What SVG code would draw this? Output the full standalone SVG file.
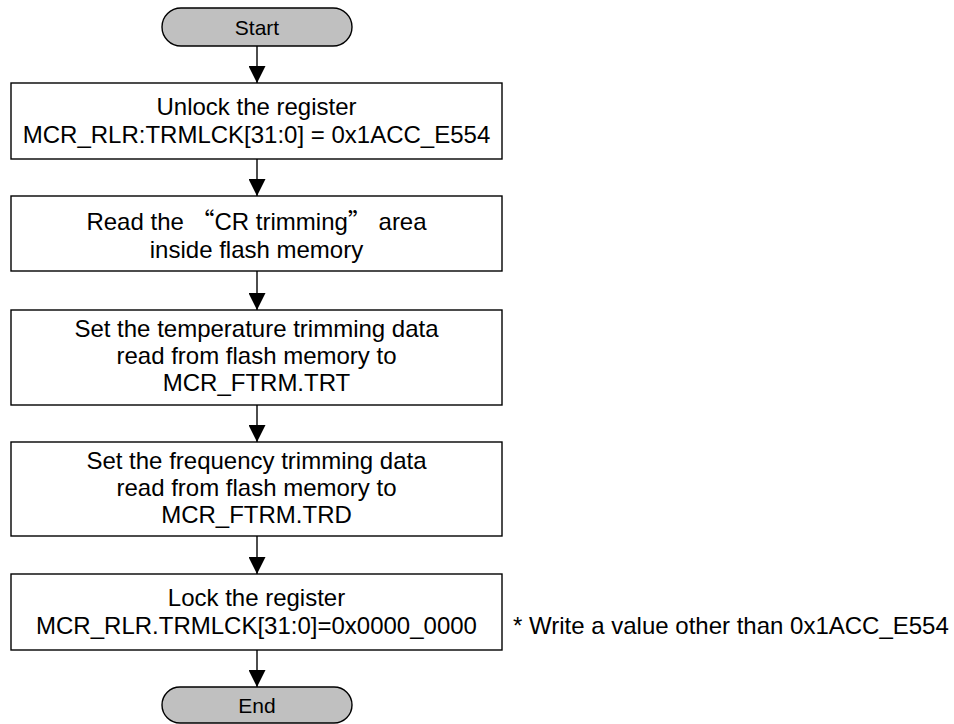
<svg xmlns="http://www.w3.org/2000/svg" width="954" height="724" viewBox="0 0 954 724">
<style>
text{font-family:"Liberation Sans",Arial,sans-serif;font-size:24px;fill:#000;text-anchor:middle}
.t{font-size:21px}
.term{fill:#c0c0c0;stroke:#000;stroke-width:1.4}
.box{fill:#fff;stroke:#000;stroke-width:1.4}
.conn{stroke:#000;stroke-width:1.4;fill:none}
.cjk{font-family:"Noto Sans CJK SC",sans-serif}
</style>
<defs>
<marker id="arr" markerUnits="userSpaceOnUse" markerWidth="17" markerHeight="17" refX="17" refY="8.5" orient="auto">
<path d="M0,0 L17,8.5 L0,17 Z" fill="#000"/>
</marker>
</defs>
<rect width="954" height="724" fill="#fff"/>
<g id="connectors">
<line class="conn" x1="257" y1="46" x2="257" y2="83" marker-end="url(#arr)"/>
<line class="conn" x1="257" y1="159" x2="257" y2="196" marker-end="url(#arr)"/>
<line class="conn" x1="257" y1="271" x2="257" y2="310" marker-end="url(#arr)"/>
<line class="conn" x1="257" y1="405" x2="257" y2="442" marker-end="url(#arr)"/>
<line class="conn" x1="257" y1="536" x2="257" y2="574" marker-end="url(#arr)"/>
<line class="conn" x1="257" y1="650" x2="257" y2="687" marker-end="url(#arr)"/>
</g>
<g id="start">
<rect class="term" x="162" y="8" width="190" height="38" rx="19"/>
<text class="t" x="257" y="34.5">Start</text>
</g>
<g id="unlock">
<rect class="box" x="11" y="83" width="491" height="76"/>
<text x="256.5" y="115">Unlock the register</text>
<text x="256.5" y="143">MCR_RLR:TRMLCK[31:0] = 0x1ACC_E554</text>
</g>
<g id="read">
<rect class="box" x="11" y="196" width="491" height="75"/>
<text x="256.5" y="230">Read the <tspan class="cjk">“</tspan>CR trimming<tspan class="cjk">”</tspan> area</text>
<text x="256.5" y="258">inside flash memory</text>
</g>
<g id="settemp">
<rect class="box" x="11" y="310" width="491" height="95"/>
<text x="256.5" y="337">Set the temperature trimming data</text>
<text x="256.5" y="364">read from flash memory to</text>
<text x="256.5" y="391">MCR_FTRM.TRT</text>
</g>
<g id="setfreq">
<rect class="box" x="11" y="442" width="491" height="94"/>
<text x="256.5" y="469">Set the frequency trimming data</text>
<text x="256.5" y="496">read from flash memory to</text>
<text x="256.5" y="523">MCR_FTRM.TRD</text>
</g>
<g id="lock">
<rect class="box" x="11" y="574" width="491" height="76"/>
<text x="256.5" y="606">Lock the register</text>
<text x="256.5" y="634">MCR_RLR.TRMLCK[31:0]=0x0000_0000</text>
</g>
<g id="note">
<text x="513" y="634" style="text-anchor:start">* Write a value other than 0x1ACC_E554</text>
</g>
<g id="end">
<rect class="term" x="162" y="687" width="190" height="36" rx="18"/>
<text class="t" x="257" y="712.5">End</text>
</g>
</svg>
